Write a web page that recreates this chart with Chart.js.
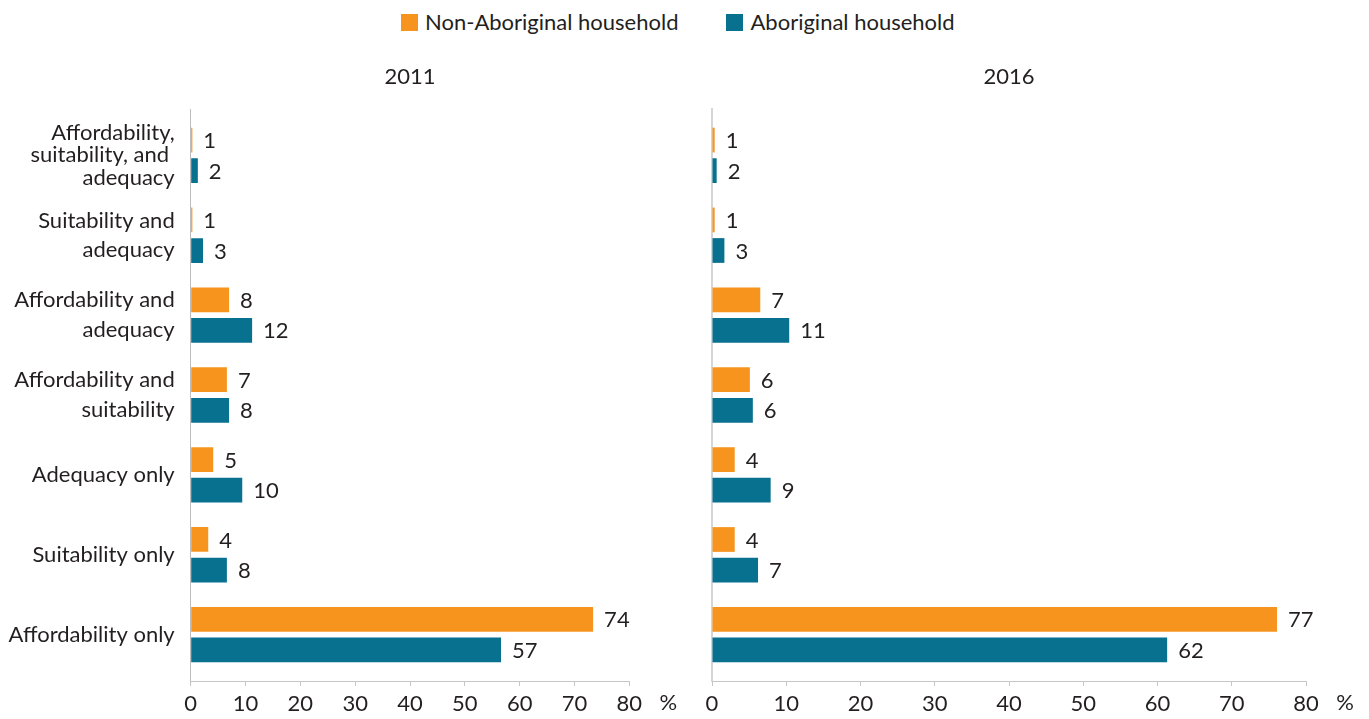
<!DOCTYPE html>
<html><head><meta charset="utf-8">
<script src="https://cdn.jsdelivr.net/npm/chart.js@4.4.1/dist/chart.umd.min.js"></script>
<style>
html,body{margin:0;padding:0;background:#fff;width:1369px;height:719px;overflow:hidden;font-family:Lato,sans-serif;}
#c2011{position:absolute;left:0;top:0;}
#c2016{position:absolute;left:680px;top:0;}
#legend{position:absolute;left:401px;top:9px;display:flex;align-items:center;font-size:22px;line-height:26px;color:#231f20;white-space:nowrap;}
.item{display:flex;align-items:center;margin-right:48px;}
.sw{width:17px;height:17px;margin-right:7px;}
</style></head>
<body>
<div id="legend"></div>
<canvas id="c2011" width="680" height="719"></canvas>
<canvas id="c2016" width="689" height="719"></canvas>
<script>
// ---- data ----
const categories = [
  ["Affordability,", "suitability, and ", "adequacy"],
  ["Suitability and", "adequacy"],
  ["Affordability and", "adequacy"],
  ["Affordability and", "suitability"],
  "Adequacy only",
  "Suitability only",
  "Affordability only"
];
const seriesNames = ["Non-Aboriginal household", "Aboriginal household"];
const panelTitles = ["2011", "2016"];

const nonAboriginal2011 = [0.3, 0.3, 7.0, 6.6, 4.1, 3.2, 73.4];
const aboriginal2011    = [1.3, 2.25, 11.2, 7.0, 9.4, 6.6, 56.6];
const nonAboriginal2016 = [0.36, 0.36, 6.5, 5.1, 3.06, 3.06, 76.1];
const aboriginal2016    = [0.63, 1.67, 10.4, 5.5, 7.9, 6.2, 61.3];

const nonAboriginalLabels2011 = ["1", "1", "8", "7", "5", "4", "74"];
const aboriginalLabels2011    = ["2", "3", "12", "8", "10", "8", "57"];
const nonAboriginalLabels2016 = ["1", "1", "7", "6", "4", "4", "77"];
const aboriginalLabels2016    = ["2", "3", "11", "6", "9", "7", "62"];

const xTickValues = [0, 10, 20, 30, 40, 50, 60, 70, 80];
const unitLabel = "%";

// ---- styles ----
const ORANGE = "#F7941E";
const TEAL = "#07718F";
const TEXT = "#231f20";
const FONT = "Lato";

// legend (HTML)
const legendEl = document.getElementById("legend");
[ORANGE, TEAL].forEach((c, i) => {
  const it = document.createElement("div"); it.className = "item";
  const sw = document.createElement("div"); sw.className = "sw"; sw.style.background = c;
  const tx = document.createElement("span"); tx.textContent = seriesNames[i];
  it.appendChild(sw); it.appendChild(tx); legendEl.appendChild(it);
});

const valueLabelPlugin = {
  id: "valueLabels",
  afterDatasetsDraw(chart) {
    const ctx = chart.ctx;
    ctx.save();
    ctx.font = "22px " + FONT;
    ctx.fillStyle = TEXT;
    ctx.textBaseline = "middle";
    ctx.textAlign = "left";
    chart.data.datasets.forEach((ds, di) => {
      const meta = chart.getDatasetMeta(di);
      meta.data.forEach((el, i) => {
        ctx.fillText(ds.valueLabels[i], el.x + 11, el.y + 1);
      });
    });
    ctx.restore();
  }
};

const panelTextPlugin = {
  id: "panelText",
  afterDraw(chart, args, opts) {
    const ctx = chart.ctx, a = chart.chartArea;
    ctx.save();
    ctx.font = "22px " + FONT;
    ctx.fillStyle = TEXT;
    ctx.textBaseline = "middle";
    ctx.textAlign = "center";
    ctx.fillText(opts.title, (a.left + a.right) / 2, a.top - 32);
    ctx.fillText(unitLabel, a.right + 39, a.bottom + 22);
    ctx.restore();
  }
};

function makeChart(id, title, vals0, vals1, labs0, labs1, yWidth, padRight, showY, axisColor, axisWidth) {
  const toPts = vals => vals.map((v, i) => ({ x: v, y: i }));
  return new Chart(document.getElementById(id), {
    type: "bar",
    data: {
      datasets: [
        { label: seriesNames[0], data: toPts(vals0), backgroundColor: ORANGE, valueLabels: labs0 },
        { label: seriesNames[1], data: toPts(vals1), backgroundColor: TEAL, valueLabels: labs1 }
      ]
    },
    options: {
      indexAxis: "y",
      responsive: false,
      animation: false,
      devicePixelRatio: 1,
      categoryPercentage: 0.765,
      barPercentage: 0.81,
      layout: { padding: { left: 0, right: padRight, top: 109, bottom: 0 } },
      plugins: {
        legend: { display: false },
        title: { display: false },
        tooltip: { enabled: false },
        panelText: { title: title }
      },
      scales: {
        y: {
          type: "linear",
          reverse: true,
          offset: false,
          bounds: "data",
          grace: 0,
          min: -0.58,
          max: categories.length - 1 + 0.58,
          afterBuildTicks: s => { s.ticks = categories.map((c, i) => ({ value: i })); },
          afterFit: s => { s.width = yWidth; s.paddingTop = 0; s.paddingBottom = 0; },
          grid: { display: false, drawTicks: false, offset: false },
          border: { display: true, color: axisColor, width: axisWidth },
          ticks: {
            display: showY,
            autoSkip: false,
            padding: 16,
            color: TEXT,
            font: c => {
              const lab = categories[c.index];
              const lines = Array.isArray(lab) ? lab.length : 1;
              return { family: FONT, size: 22, lineHeight: lines === 2 ? 1.34 : 1.03 };
            },
            callback: v => categories[v]
          }
        },
        x: {
          type: "linear",
          min: 0,
          max: 80,
          afterBuildTicks: s => { s.ticks = xTickValues.map(v => ({ value: v })); },
          afterFit: s => { s.height = 38; },
          grid: { drawOnChartArea: false, drawTicks: true, tickLength: 5, color: "#c6c6c6", lineWidth: 1 },
          border: { display: true, color: "#c6c6c6", width: 1 },
          ticks: {
            padding: 5,
            color: TEXT,
            font: { family: FONT, size: 22 },
            maxRotation: 0,
            autoSkip: false
          }
        }
      }
    },
    plugins: [valueLabelPlugin, panelTextPlugin]
  });
}

makeChart("c2011", panelTitles[0], nonAboriginal2011, aboriginal2011,
  nonAboriginalLabels2011, aboriginalLabels2011, 190.7, 680 - 629.3, true, "#bdbdbd", 1);
makeChart("c2016", panelTitles[1], nonAboriginal2016, aboriginal2016,
  nonAboriginalLabels2016, aboriginalLabels2016, 32, 689 - 626, false, "#d6d6d6", 2);
</script>
</body></html>
